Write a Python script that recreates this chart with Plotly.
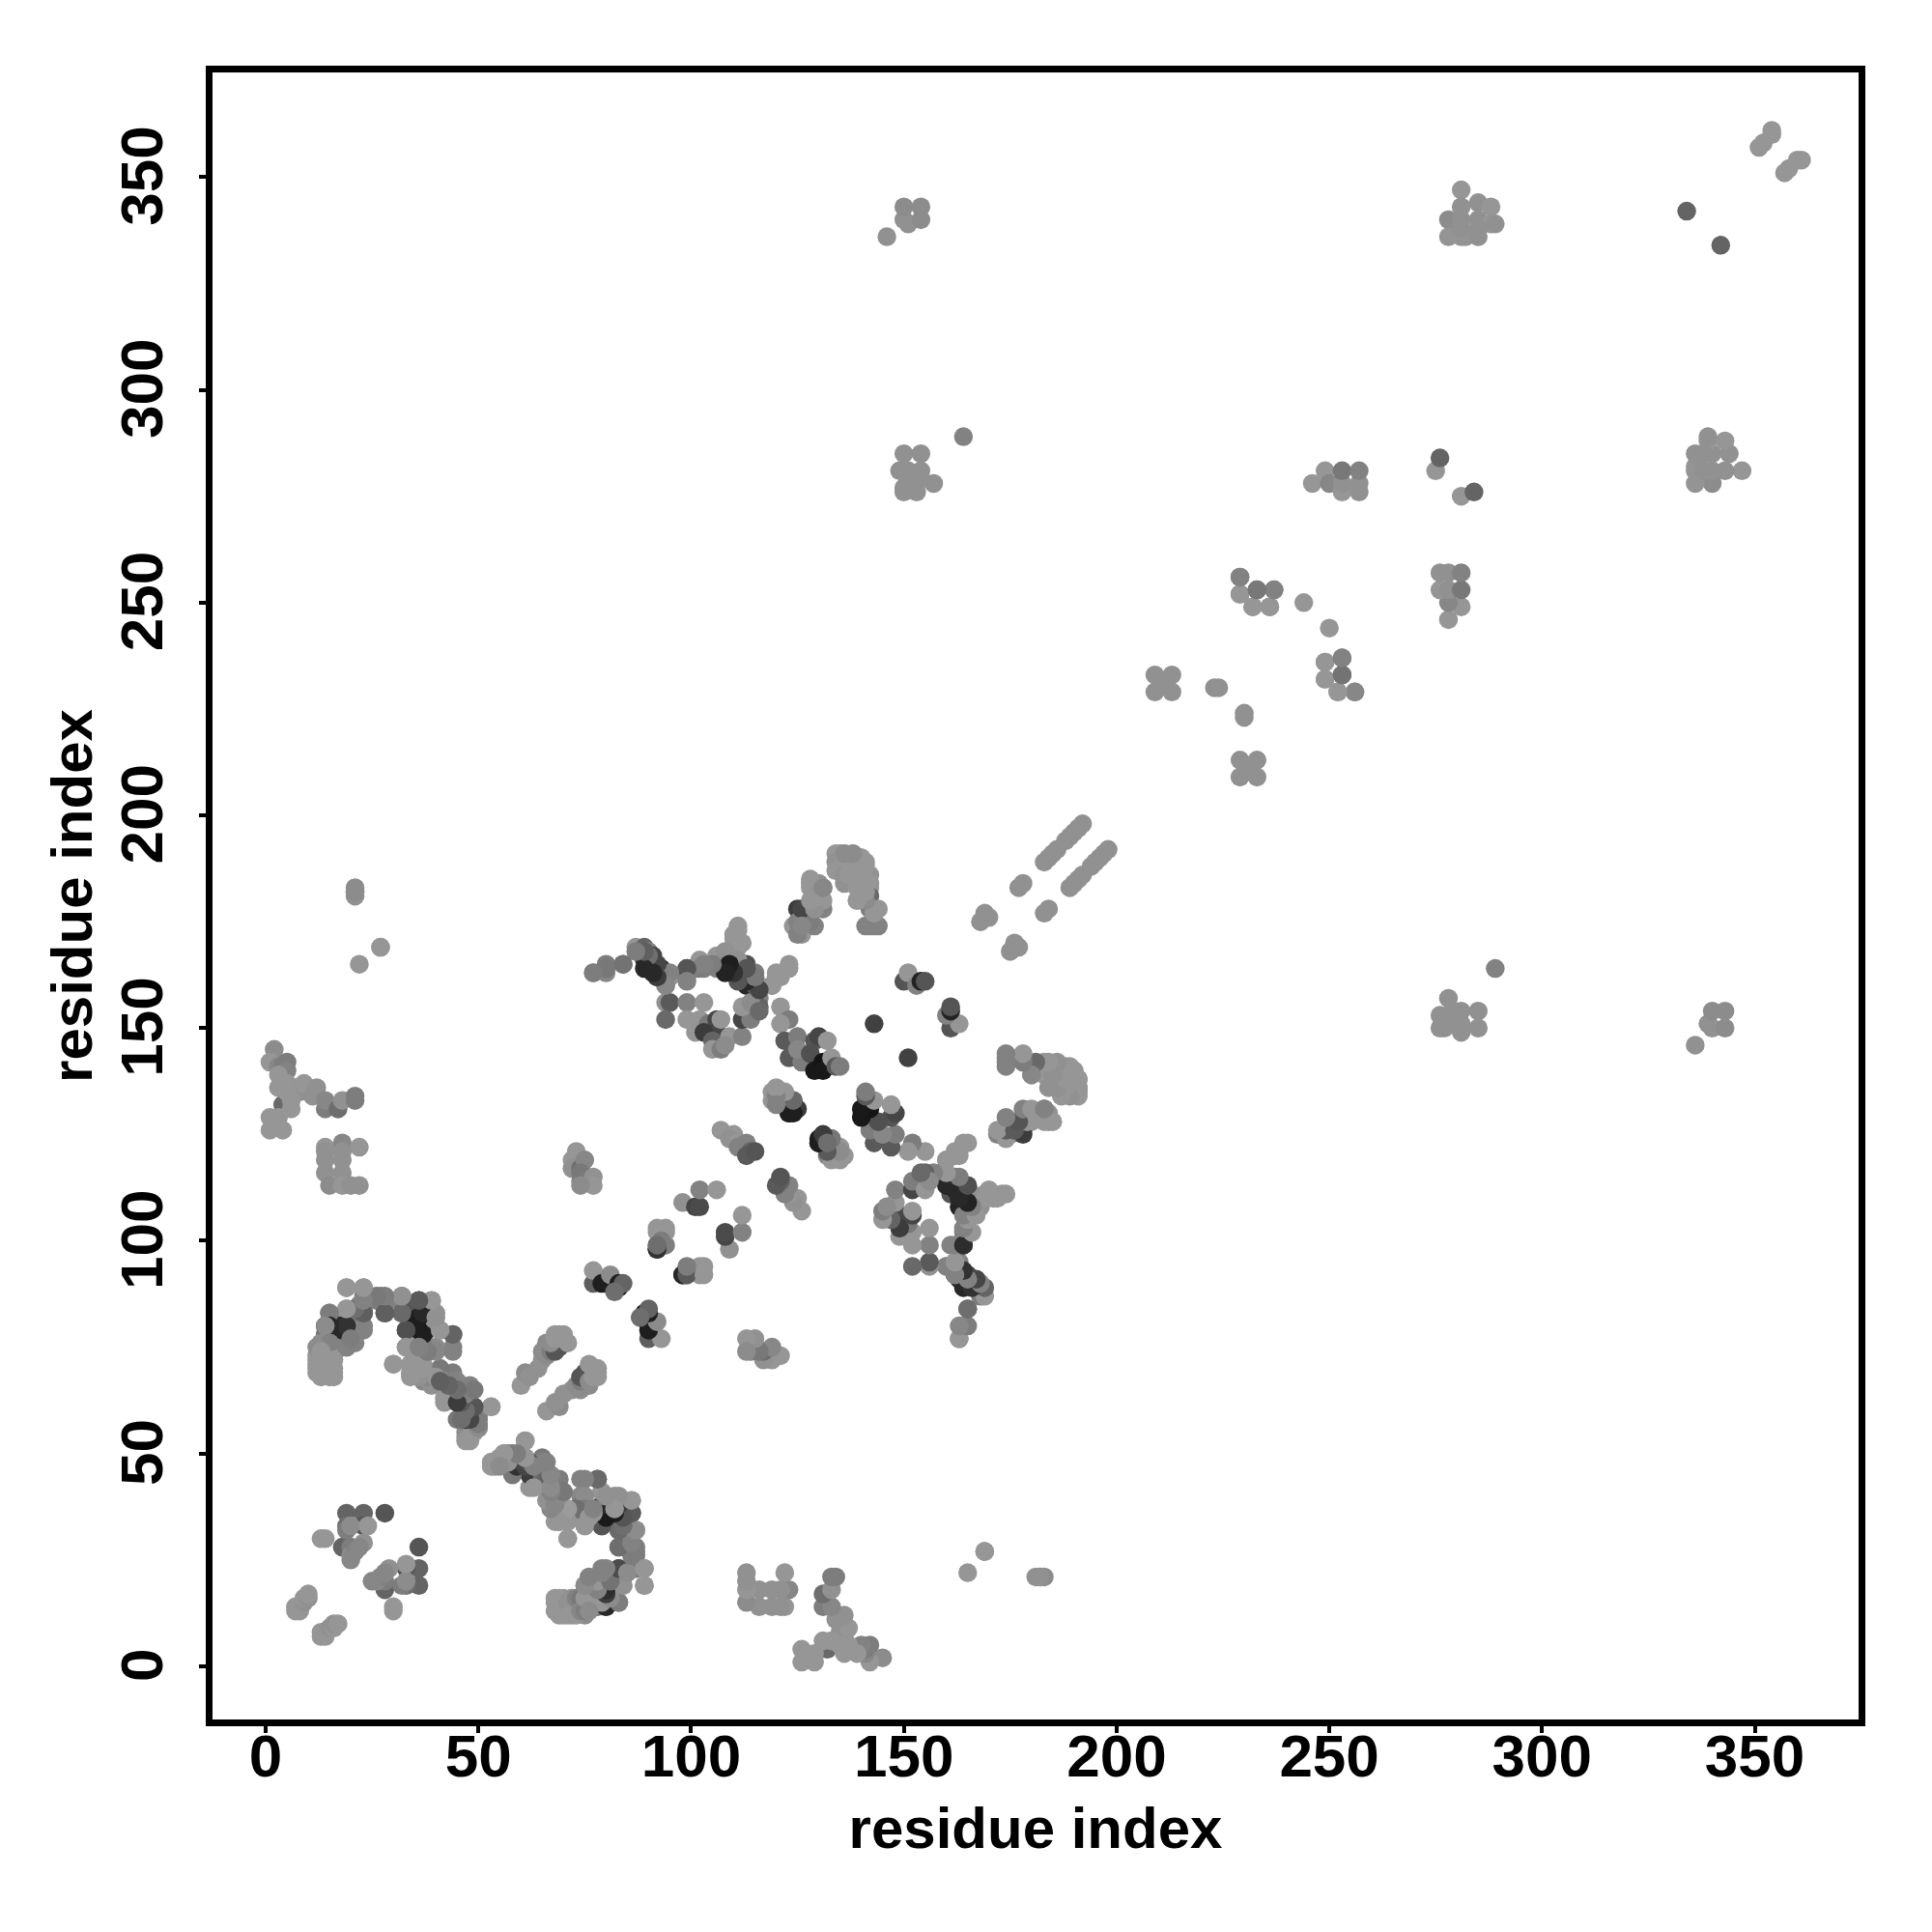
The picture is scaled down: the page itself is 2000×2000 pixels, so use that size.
import plotly.graph_objects as go

# Each contact is (residue a, residue b, grey level); the map is symmetric, so every pair shows at (a,b) and (b,a).
near_start = [(7,13,150),(7,14,150),(8,13,150),(8,14,150),(9,15,145),(9,16,150),(10,16,145),(10,17,150),
              (13,30,150),(14,30,150),(19,36,100),(23,36,100),(28,36,85),
              (19,33,110),(18,28,100),(20,28,125),(20,26,140),(21,27,130),(20,25,135),(19,32,125),(23,33,85),(20,33,140),(24,33,150),(23,29,145),(22,28,135)]
left_upper = [(2,145,140),(1,142,150),(3,141,135),(4,141,125),(5,142,125),(5,140,130),(3,139,150),(4,137,150),(5,137,150),(7,136,150),(8,135,145),(9,137,150),(12,136,145),(11,134,145),
              (4,132,105),(6,133,150),(5,135,150),(3,136,150),(6,131,150),(14,131,125),(14,133,135),(17,131,110),(18,133,145),(21,133,125),(21,134,125),
              (1,129,150),(1,126,150),(4,126,150),(3,129,150),(3,127,150),
              (14,122,150),(14,121,145),(14,119,145),(14,116,145),(15,113,140),(18,123,135),(18,119,145),(18,116,145),(18,113,150),(22,122,150),(22,113,145),(20,113,145),(18,121,145)]
arc_left = [(12,69,150),(13,69,150),(14,69,150),(15,69,150),(16,69,150),(12,70,150),(15,70,150),(12,71,150),(15,71,145),(12,72,150),(13,72,150),(12,73,150),
            (16,72,145),(16,73,130),(16,74,120),(13,74,135),(13,75,125),(14,76,120),(15,77,150),(14,78,115),(14,80,40),(15,83,125),(15,79,150),(16,75,150),(13,76,140),(16,81,140),
            (17,80,60),(18,80,45),(18,78,130),(19,84,145),(20,78,150),(20,81,115),(19,75,140),(21,76,130),(23,83,75),(23,80,130),(22,79,130),(23,87,125),(22,85,140),(19,89,150),(23,89,150)]
arc_top = [(26,86,125),(27,87,125),(28,83,110),(29,86,130),(32,87,140),(32,83,105),(33,84,110),(36,86,90),(33,79,85),(35,84,85),(36,82,30),(36,79,28),(35,80,25),(38,79,40),(38,82,60),(38,83,60),(39,86,150),(40,83,145),(37,82,150),
           (41,79,150),(40,80,145),(44,78,105),(44,75,130),(40,75,140),(37,75,125),(37,73,110),(33,75,150),(35,76,150),(36,77,150),(37,77,130)]
arc_down = [(30,71,150),(34,71,150),(35,70,150),(37,71,155),(34,69,150),(37,67,135),(40,69,140),(44,69,125),(39,66,145),(38,68,135),(41,70,120),(41,67,130),(44,66,100),(42,63,150),(42,67,140),(45,67,135),
            (48,66,130),(48,65,130),(45,58,120),(47,59,50),(47,61,70),(48,62,90),(47,63,130),(50,58,125),(49,61,150),(53,61,150),(47,54,150),(49,55,150),(48,57,145),(50,59,125),
            (48,53,150),(50,56,150),(47,55,140),(53,47,150),(54,48,150),(56,50,140),(57,50,125),(58,47,45),(58,48,70),(58,46,110),(61,53,150),(61,49,85),(60,47,110),(62,46,90),(62,42,150),(64,47,130),(62,45,60),
            (65,48,130),(65,49,120),(67,44,130),(65,45,110),(66,43,100),(68,40,150),(67,41,95),(68,36,145),(68,34,150),(69,34,150),(70,37,150),(71,37,150),(71,30,150),(72,35,150)]
arc_right = [(74,44,130),(78,44,100),(74,40,135),(74,38,125),(78,37,30),(79,36,30),(79,41,150),(82,36,30),(83,37,40),(82,40,145),(86,39,150),(86,36,90),(79,33,80),(83,32,105),(87,32,145),(75,33,150),(75,36,130),
             (83,28,95),(87,28,125),(87,26,120),(78,21,135),(79,23,130),(83,23,95),(84,21,110),(86,23,130),(89,23,150),(89,19,150),(79,18,40),(80,19,50),(84,19,150),(75,19,130),(77,20,125),(83,15,125),(80,15,40),(80,14,140),(76,15,130),(75,12,140),(74,14,130),
             (68,16,150),(70,16,150),(72,16,150),(68,13,150),(70,13,150),(72,13,150),(74,13,150),(68,15,150),(70,14,150)]
streak_60s = [(60,66,150),(61,69,140),(62,68,145),(64,70,145),(65,72,145),(66,73,140),(65,74,140),(66,76,140),(67,74,125),(68,74,85),(69,75,85),(67,76,140),(68,77,150),(69,78,150),(70,78,150),(70,77,150),(71,76,150),(68,78,150)]
far_left = [(73,121,150),(72,119,150),(72,117,145),(74,117,110),(75,119,135),(74,114,130),(74,116,120),(77,115,145),(77,113,150),(74,113,140)]
band_80_110 = [(77,90,95),(77,93,150),(79,90,30),(80,90,30),(81,92,140),(83,89,30),(83,90,30),(84,90,100),(82,88,110),
               (92,98,40),(92,99,90),(92,103,150),(94,103,150),(94,99,125),(98,109,145),(101,108,70),(102,108,75),(102,112,130),(106,112,150)]
band_80_110b = [(102,94,150),(102,92,150),(100,93,125),(98,92,50),(99,92,110)]
band_110_135 = [(107,126,150),(110,125,150),(109,124,145),(111,123,150),(111,122,130),(113,123,130),(114,121,100),(113,120,90),(115,121,85),
                (119,135,150),(119,133,150),(121,135,140),(121,132,90),(123,130,30),(124,133,120),(125,131,60),(123,132,110),
                (130,124,30),(130,123,30),(133,124,105),(135,122,150),(134,120,130),(136,120,150),(132,120,130)]
core_130s = [(121,155,150),(123,152,125),(121,151,150),(122,147,90),(125,148,125),(123,143,90),(126,142,125),(125,145,135),(129,147,85),(130,148,70),(128,144,80),
             (129,140,25),(131,142,20),(131,140,25),(132,147,150),(133,143,150),(134,141,90),(135,141,125),(143,151,65),
             (150,161,85),(151,163,150),(153,160,130),(154,161,35),(155,161,85)]
fan_top = [(124,174,150),(126,174,90),(126,172,150),(125,178,60),(126,176,90),(128,179,150),(128,177,85),(129,174,130),(131,178,130),(131,180,150),(128,184,150),(128,183,150),(131,183,130),
           (135,191,150),(136,191,150),(137,190,145),(134,191,150),(134,189,145),(134,187,150),(136,188,150),(136,186,145),(136,184,145),(138,191,150),(138,188,150),(140,190,150),(141,189,150),(141,187,150),(142,186,145),
           (139,185,145),(142,184,150),(142,183,150),(142,181,105),(139,180,135),(142,178,125),(144,178,150),(142,174,130),(144,174,130)]
fan_upper_left = [(77,163,150),(80,165,125),(80,163,135),(84,165,110),(87,169,150),(89,169,100),(89,166,50),(90,168,130),(91,167,70),(91,165,130),(93,164,50),(92,162,130),(94,160,130),(95,162,150),
                  (99,162,130),(99,164,45),(102,166,150),(103,164,130),(105,165,150),(106,164,130),(106,167,150),
                  (111,174,150),(110,172,150),(110,169,150),(112,170,150),(108,166,130),(109,165,35),(110,163,40),(112,162,40),(113,165,80),(113,160,40),(115,163,125),(116,160,150),(119,160,150),(116,157,130),(116,155,100),(123,165,150),(120,163,150),(121,162,150)]
fan_inner = [(94,156,145),(95,156,90),(94,152,105),(99,156,130),(99,152,150),(103,156,150),(102,152,150),(101,149,150),(104,151,120),(106,152,70),(106,149,70),(103,149,60),(105,147,100),
             (105,145,150),(107,145,125),(107,152,150),(109,148,150),(112,148,130),(112,152,70),(114,152,125),(112,155,150),(114,156,140),(116,154,105),(108,146,140)]
fan_right = [(164,123,150),(162,120,150),(160,119,150),(173,111,150),(171,110,150),(169,111,150),(168,108,145),(166,111,145),
             (160,115,90),(159,116,70),(161,113,40),(162,115,120),(161,111,85),(164,113,85),(163,110,50),(165,109,30),(163,108,35),(165,105,125),(164,102,125),(165,103,130),(164,99,85),(161,99,130),(163,95,130),
             (160,94,135),(162,92,60),(165,92,70),(163,91,40),(167,90,110),(164,89,40),(168,89,95),(168,87,125),(165,84,115),(164,80,120),(163,77,125)]
ridge_right = [(174,143,130),(174,141,130),(177,143,150),(180,141,140),(180,139,150),(182,141,150),(183,139,150),(184,141,150),(185,140,150),(186,139,150),(186,137,150),(188,141,150),(188,139,150),(189,137,150),(190,140,150),(190,136,150),(191,138,140),(191,136,140),
               (172,125,130),(175,125,130),(175,128,125),(178,126,70),(178,129,145),(181,130,150),(184,130,145),(185,128,150),(174,126,135),(180,128,150),(183,131,135)]
tail_streaks = [(168,175,145),(169,176,145),(169,177,145),(170,176,145),(177,183,145),(178,184,145),(183,189,145),(184,190,145),(185,191,145),(186,192,145),
                (188,194,145),(189,195,145),(190,196,145),(191,197,145),(192,198,145),(21,181,145),(21,182,145),(22,165,150),(27,169,150),(182,21,140),(183,21,140),(169,27,150)]
upper_middle = [(146,336,145),(150,340,145),(151,339,145),(150,343,140),(154,340,140),(154,343,140),
                (150,285,145),(154,285,145),(149,281,145),(151,281,145),(154,281,145),(157,278,145),(150,277,145),(151,279,145),(153,276,145),(154,279,145),(150,276,145),(164,289,130),(152,278,145)]
upper_far = [(281,347,150),(281,343,145),(285,344,145),(288,343,150),(278,340,140),(281,340,145),(285,340,145),(288,339,150),(289,339,145),(278,336,148),(281,336,148),(282,336,148),(285,336,145),(281,338,145),(285,338,145),
             (351,357,150),(352,358,150),(354,360,150),(354,361,150),(334,342,100),(275,281,150),(276,284,100),
             (246,278,150),(249,281,150),(250,278,135),(253,276,150),(253,278,145),(253,281,120),(257,276,145),(257,278,145),(257,281,130)]
upper_near = [(229,256,135),(229,252,150),(232,249,150),(236,249,150),(233,253,115),(237,253,130),(244,250,150),
              (209,233,145),(213,233,145),(209,229,145),(213,229,145),(211,231,145),(223,230,145),(224,230,145),
              (249,236,150),(249,232,150),(252,229,150),(253,237,130),(253,233,120),(256,229,130)]

ticks = [0, 50, 100, 150, 200, 250, 300, 350]
axis_label = "residue index"

contacts = (near_start + left_upper + arc_left + arc_top + arc_down + arc_right + streak_60s + far_left
            + band_80_110 + band_80_110b + band_110_135 + core_130s + fan_top + fan_upper_left + fan_inner + fan_right + ridge_right
            + tail_streaks + upper_middle + upper_far + upper_near)
res_a = [c[0] for c in contacts]
res_b = [c[1] for c in contacts]
grey = [c[2] for c in contacts]

fig = go.Figure()
fig.add_trace(go.Scatter(
    x=res_a + res_b, y=res_b + res_a, mode="markers",
    marker=dict(size=19.5, color=grey + grey, cmin=0, cmax=255,
                colorscale=[[0, "rgb(0,0,0)"], [1, "rgb(255,255,255)"]], line=dict(width=0)),
    showlegend=False, hoverinfo="x+y"))

tick_font = dict(family="Liberation Sans", size=62, color="black", weight="bold")
title_font = dict(family="Liberation Sans", size=60, color="black", weight="bold")
common = dict(tickmode="array", tickvals=ticks, ticktext=[str(t) for t in ticks], ticks="outside",
              ticklen=7, tickwidth=4, tickcolor="black", showline=True, linewidth=6.5, linecolor="black",
              mirror=True, showgrid=False, zeroline=False, tickfont=tick_font)
fig.update_xaxes(range=[-12.5, 374.4], ticklabelstandoff=-29, title=dict(text=axis_label, font=title_font, standoff=22), **common)
fig.update_yaxes(range=[-12.5, 374.6], tickangle=-90, ticklabelstandoff=13, ticklabelshift=8,
                 title=dict(text=axis_label, font=title_font, standoff=0), **common)
fig.update_layout(width=2000, height=2000, autosize=False, paper_bgcolor="white", plot_bgcolor="white",
                  margin=dict(l=212, r=84, t=67, b=228, autoexpand=False))
fig.write_html("out.html")
